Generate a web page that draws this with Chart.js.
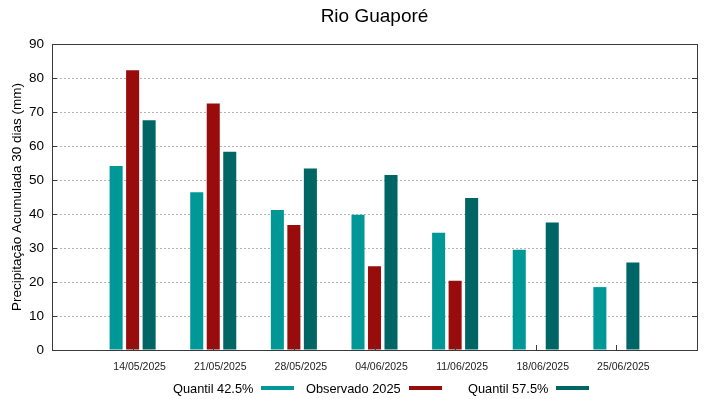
<!DOCTYPE html>
<html>
<head>
<meta charset="utf-8">
<script src="https://cdn.jsdelivr.net/npm/chart.js@4"></script>
<style>
html,body{margin:0;padding:0;background:#fff;}
#wrap{position:relative;width:719px;height:399px;overflow:hidden;}
#title{position:absolute;left:0;width:749px;top:5px;line-height:22px;text-align:center;font-family:"Liberation Sans",Arial,sans-serif;font-size:19px;color:#000;}
.lg{position:absolute;top:380px;height:16px;display:flex;align-items:center;font-family:"Liberation Sans",Arial,sans-serif;font-size:12.8px;color:#000;white-space:nowrap;}
.lg i{display:inline-block;width:33px;height:4px;margin-left:8px;}
</style>
</head>
<body>
<div id="wrap">
  <canvas id="c" width="719" height="399"></canvas>
  <div id="title">Rio Guaporé</div>
  <div class="lg" style="left:173px"><span>Quantil 42.5%</span><i style="background:#009797"></i></div>
  <div class="lg" style="left:306px"><span>Observado 2025</span><i style="background:#980c0c"></i></div>
  <div class="lg" style="left:468px"><span>Quantil 57.5%</span><i style="background:#006565"></i></div>
</div>
<script>
const dates = ['14/05/2025','21/05/2025','28/05/2025','04/06/2025','11/06/2025','18/06/2025','25/06/2025'];
const quantil425 = [54.1, 46.4, 41.2, 39.8, 34.5, 29.5, 18.5];
const observado2025 = [82.3, 72.5, 36.8, 24.6, 20.4, null, null];
const quantil575 = [67.6, 58.3, 53.4, 51.5, 44.7, 37.5, 25.7];
const yTicks = [0,10,20,30,40,50,60,70,80,90];

const labels = [''].concat(dates, ['']);
const pad = arr => [null].concat(arr, [null]);

const frame = {
  id: 'frame',
  afterDatasetsDraw(chart) {
    const {ctx, chartArea: a, scales: {x, y}} = chart;
    ctx.save();
    ctx.strokeStyle = '#3a3a3a';
    ctx.lineWidth = 1;
    const line = (x1, y1, x2, y2) => { ctx.beginPath(); ctx.moveTo(x1, y1); ctx.lineTo(x2, y2); ctx.stroke(); };
    ctx.strokeRect(a.left + 0.5, a.top + 0.5, a.right - a.left, a.bottom - a.top);
    y.ticks.forEach(t => {
      const py = Math.round(y.getPixelForValue(t.value)) + 0.5;
      line(a.left, py, a.left + 5, py);
      line(a.right - 5, py, a.right, py);
    });
    x.ticks.forEach(t => {
      if (!labels[t.value]) return;
      const px = Math.round(x.getPixelForValue(t.value)) + 0.5;
      line(px, a.bottom, px, a.bottom - 5);
    });
    ctx.restore();
  }
};

new Chart(document.getElementById('c'), {
  type: 'bar',
  data: {
    labels: labels,
    datasets: [
      {label: 'Quantil 42.5%', data: pad(quantil425), backgroundColor: '#009797'},
      {label: 'Observado 2025', data: pad(observado2025), backgroundColor: '#980c0c'},
      {label: 'Quantil 57.5%', data: pad(quantil575), backgroundColor: '#006565'}
    ]
  },
  options: {
    responsive: false,
    animation: false,
    devicePixelRatio: 1,
    layout: {padding: {top: 44, right: 22, left: 0, bottom: 0}},
    datasets: {bar: {categoryPercentage: 0.614, barPercentage: 0.79}},
    plugins: {legend: {display: false}, title: {display: false}, tooltip: {enabled: false}},
    scales: {
      x: {
        type: 'category',
        offset: false,
        grid: {display: false, drawTicks: false},
        border: {display: false},
        ticks: {
          autoSkip: false, maxRotation: 0, minRotation: 0,
          padding: 11, labelOffset: 7,
          color: '#222',
          font: {family: '"Liberation Sans", Arial, sans-serif', size: 10.5}
        },
        afterFit: s => { s.height = 49; }
      },
      y: {
        min: 0, max: 90,
        afterBuildTicks: s => { s.ticks = yTicks.map(v => ({value: v})); },
        grid: {
          drawTicks: false,
          color: ctx => (ctx.tick && (ctx.tick.value === 0 || ctx.tick.value === 90)) ? 'rgba(0,0,0,0)' : '#b4b4b4',
          lineWidth: 1
        },
        border: {display: false, dash: [2, 2]},
        ticks: {
          padding: 8,
          color: '#000',
          font: {family: '"Liberation Sans", Arial, sans-serif', size: 13.5}
        },
        title: {
          display: true,
          text: 'Precipitação Acumulada 30 dias (mm)',
          color: '#000',
          padding: {top: 9, bottom: 0},
          font: {family: '"Liberation Sans", Arial, sans-serif', size: 13.5}
        },
        afterFit: s => { s.width = 52; }
      }
    }
  },
  plugins: [frame]
});
</script>
</body>
</html>
